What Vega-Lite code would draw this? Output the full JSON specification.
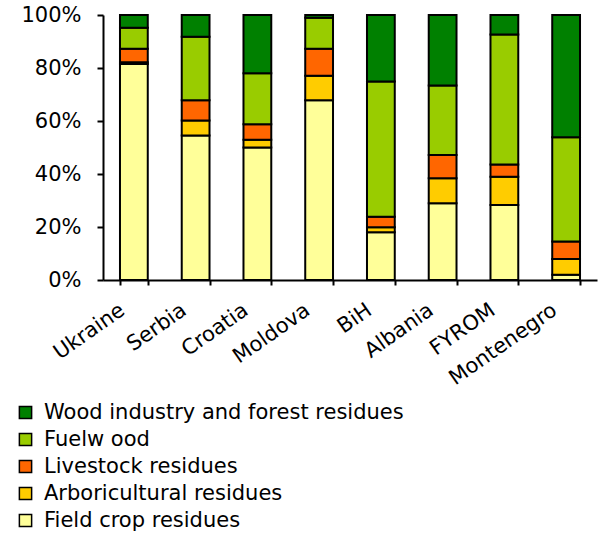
{
  "$schema": "https://vega.github.io/schema/vega-lite/v6.json",
  "width": 494,
  "height": 265,
  "autosize": {"type": "none"},
  "padding": {"left": 103, "top": 15, "right": 5, "bottom": 254},
  "background": "white",
  "config": {
    "font": "DejaVu Sans",
    "view": {"stroke": null},
    "axis": {"grid": false, "domainColor": "black", "tickColor": "black", "labelColor": "black", "labelFont": "DejaVu Sans", "labelFontSize": 21, "domainWidth": 2, "tickWidth": 2}
  },
  "data": {
    "values": [
      {"country": "Ukraine", "source": "Field crop residues", "rank": 1, "value": 81.5},
      {"country": "Ukraine", "source": "Arboricultural residues", "rank": 2, "value": 0.7},
      {"country": "Ukraine", "source": "Livestock residues", "rank": 3, "value": 5.1},
      {"country": "Ukraine", "source": "Fuelw ood", "rank": 4, "value": 7.9},
      {"country": "Ukraine", "source": "Wood industry and forest residues", "rank": 5, "value": 4.8},
      {"country": "Serbia", "source": "Field crop residues", "rank": 1, "value": 54.5},
      {"country": "Serbia", "source": "Arboricultural residues", "rank": 2, "value": 5.7},
      {"country": "Serbia", "source": "Livestock residues", "rank": 3, "value": 7.6},
      {"country": "Serbia", "source": "Fuelw ood", "rank": 4, "value": 24.0},
      {"country": "Serbia", "source": "Wood industry and forest residues", "rank": 5, "value": 8.2},
      {"country": "Croatia", "source": "Field crop residues", "rank": 1, "value": 50.0},
      {"country": "Croatia", "source": "Arboricultural residues", "rank": 2, "value": 2.9},
      {"country": "Croatia", "source": "Livestock residues", "rank": 3, "value": 5.9},
      {"country": "Croatia", "source": "Fuelw ood", "rank": 4, "value": 19.2},
      {"country": "Croatia", "source": "Wood industry and forest residues", "rank": 5, "value": 22.0},
      {"country": "Moldova", "source": "Field crop residues", "rank": 1, "value": 67.8},
      {"country": "Moldova", "source": "Arboricultural residues", "rank": 2, "value": 9.3},
      {"country": "Moldova", "source": "Livestock residues", "rank": 3, "value": 10.2},
      {"country": "Moldova", "source": "Fuelw ood", "rank": 4, "value": 11.7},
      {"country": "Moldova", "source": "Wood industry and forest residues", "rank": 5, "value": 1.0},
      {"country": "BiH", "source": "Field crop residues", "rank": 1, "value": 18.0},
      {"country": "BiH", "source": "Arboricultural residues", "rank": 2, "value": 1.9},
      {"country": "BiH", "source": "Livestock residues", "rank": 3, "value": 4.0},
      {"country": "BiH", "source": "Fuelw ood", "rank": 4, "value": 51.0},
      {"country": "BiH", "source": "Wood industry and forest residues", "rank": 5, "value": 25.1},
      {"country": "Albania", "source": "Field crop residues", "rank": 1, "value": 29.0},
      {"country": "Albania", "source": "Arboricultural residues", "rank": 2, "value": 9.4},
      {"country": "Albania", "source": "Livestock residues", "rank": 3, "value": 8.8},
      {"country": "Albania", "source": "Fuelw ood", "rank": 4, "value": 26.2},
      {"country": "Albania", "source": "Wood industry and forest residues", "rank": 5, "value": 26.6},
      {"country": "FYROM", "source": "Field crop residues", "rank": 1, "value": 28.3},
      {"country": "FYROM", "source": "Arboricultural residues", "rank": 2, "value": 10.7},
      {"country": "FYROM", "source": "Livestock residues", "rank": 3, "value": 4.6},
      {"country": "FYROM", "source": "Fuelw ood", "rank": 4, "value": 49.0},
      {"country": "FYROM", "source": "Wood industry and forest residues", "rank": 5, "value": 7.4},
      {"country": "Montenegro", "source": "Field crop residues", "rank": 1, "value": 2.0},
      {"country": "Montenegro", "source": "Arboricultural residues", "rank": 2, "value": 5.9},
      {"country": "Montenegro", "source": "Livestock residues", "rank": 3, "value": 6.6},
      {"country": "Montenegro", "source": "Fuelw ood", "rank": 4, "value": 39.4},
      {"country": "Montenegro", "source": "Wood industry and forest residues", "rank": 5, "value": 46.1}
    ]
  },
  "mark": {"type": "bar", "stroke": "black", "strokeWidth": 2},
  "encoding": {
    "x": {
      "field": "country", "type": "nominal", "sort": null,
      "scale": {"paddingInner": 0.55, "paddingOuter": 0.275},
      "axis": {"title": null, "labelAngle": -35, "tickBand": "extent", "tickSize": 5, "labelPadding": 14, "labelOffset": -18}
    },
    "y": {
      "field": "value", "type": "quantitative", "stack": "normalize",
      "scale": {"domain": [0, 1]},
      "axis": {"title": null, "format": "%", "values": [0, 0.2, 0.4, 0.6, 0.8, 1], "tickSize": 6, "labelPadding": 16}
    },
    "order": {"field": "rank", "type": "quantitative", "sort": "ascending"},
    "color": {
      "field": "source", "type": "nominal",
      "scale": {
        "domain": ["Wood industry and forest residues", "Fuelw ood", "Livestock residues", "Arboricultural residues", "Field crop residues"],
        "range": ["#008000", "#99CC00", "#FF6600", "#FFCC00", "#FFFF99"]
      },
      "legend": {
        "title": null, "orient": "none", "legendX": -88, "legendY": 387,
        "symbolType": "square", "symbolSize": 150, "symbolStrokeColor": "black", "symbolStrokeWidth": 1.5,
        "labelFontSize": 21, "labelColor": "black", "labelFont": "DejaVu Sans", "labelLimit": 0,
        "rowPadding": 5, "labelOffset": 8
      }
    }
  }
}
